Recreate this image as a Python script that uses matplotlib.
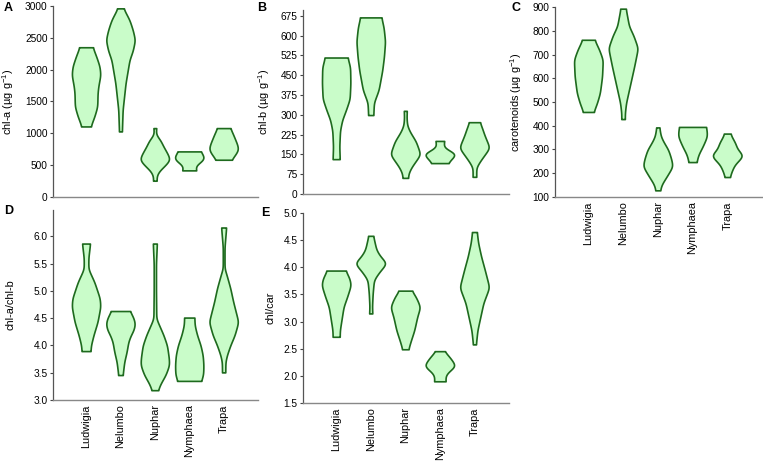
import numpy as np
import matplotlib
matplotlib.use("Agg")
import matplotlib.pyplot as plt

plt.rcParams['font.family'] = ['Liberation Sans', 'DejaVu Sans']
plt.rcParams['mathtext.fontset'] = 'custom'
plt.rcParams['mathtext.rm'] = 'Liberation Sans'
plt.rcParams['mathtext.it'] = 'Liberation Sans:italic'

species = ["Ludwigia", "Nelumbo", "Nuphar", "Nymphaea", "Trapa"]

# violin outlines: y levels (bottom -> top) and relative width
chla_y = [[1108, 1160, 1265, 1420, 1630, 1735, 1918, 2050, 2200, 2352],
          [1030, 1369, 1787, 2153, 2300, 2467, 2620, 2780, 2963],
          [256, 324, 402, 481, 585, 690, 794, 899, 960, 1003, 1050, 1082],
          [418, 455, 496, 533, 596, 660, 716],
          [585, 638, 742, 820, 899, 1003, 1082]]
chla_w = [[0.32, 0.4, 0.58, 0.78, 0.8, 0.85, 1.0, 0.94, 0.72, 0.46],
          [0.1, 0.15, 0.35, 0.62, 0.85, 1.0, 0.85, 0.62, 0.2],
          [0.12, 0.1, 0.25, 0.6, 1.0, 0.8, 0.55, 0.35, 0.12, 0.05, 0.08, 0.1],
          [0.47, 0.4, 0.36, 0.65, 1.0, 0.9, 0.7],
          [0.5, 0.7, 1.0, 0.92, 0.78, 0.6, 0.43]]

chlb_y = [[132, 180, 240, 280, 320, 360, 420, 480, 517],
          [299, 346, 394, 468, 520, 578, 630, 669],
          [61, 77, 101, 150, 199, 236, 260, 290, 315],
          [117, 135, 153, 165, 178, 188, 201],
          [65, 101, 127, 175, 224, 250, 272]]
chlb_w = [[0.25, 0.22, 0.27, 0.42, 0.7, 0.95, 1.0, 0.98, 0.8],
          [0.18, 0.22, 0.55, 0.8, 0.92, 1.0, 0.9, 0.74],
          [0.18, 0.2, 0.4, 1.0, 0.7, 0.3, 0.12, 0.08, 0.1],
          [0.45, 0.7, 1.0, 0.5, 0.18, 0.22, 0.26],
          [0.12, 0.12, 0.4, 1.0, 0.65, 0.5, 0.35]]

car_y = [[458, 496, 538, 608, 678, 720, 762],
         [428, 453, 496, 566, 650, 727, 780, 819, 893],
         [128, 152, 187, 229, 260, 299, 330, 355, 393],
         [247, 278, 313, 355, 380, 395],
         [184, 210, 236, 274, 303, 327, 350, 367]]
car_w = [[0.36, 0.6, 0.8, 0.95, 1.0, 0.75, 0.42],
         [0.12, 0.12, 0.2, 0.45, 0.75, 1.0, 0.7, 0.4, 0.18],
         [0.15, 0.25, 0.6, 1.0, 0.9, 0.7, 0.4, 0.2, 0.1],
         [0.27, 0.4, 0.7, 1.0, 0.98, 0.92],
         [0.15, 0.28, 0.45, 1.0, 0.6, 0.5, 0.3, 0.18]]

ab_y = [[3.896, 4.0, 4.19, 4.43, 4.71, 4.86, 5.16, 5.4, 5.6, 5.866],
        [3.457, 3.70, 3.88, 4.07, 4.19, 4.28, 4.40, 4.52, 4.63],
        [3.18, 3.30, 3.46, 3.64, 3.76, 4.0, 4.19, 4.31, 4.43, 4.49, 5.0, 5.5, 5.866],
        [3.35, 3.46, 3.64, 3.82, 4.0, 4.19, 4.37, 4.51],
        [3.506, 3.70, 3.82, 4.0, 4.19, 4.43, 4.80, 5.05, 5.29, 5.41, 5.8, 6.16]]
ab_w = [[0.31, 0.34, 0.52, 0.8, 1.0, 0.96, 0.58, 0.16, 0.16, 0.28],
        [0.15, 0.26, 0.42, 0.54, 0.71, 0.9, 1.0, 0.87, 0.63],
        [0.21, 0.4, 0.75, 1.0, 0.98, 0.85, 0.6, 0.4, 0.2, 0.1, 0.08, 0.08, 0.14],
        [0.83, 0.98, 1.0, 0.95, 0.8, 0.55, 0.38, 0.36],
        [0.11, 0.12, 0.22, 0.45, 0.75, 1.0, 0.65, 0.45, 0.2, 0.06, 0.06, 0.17]]

chlcar_y = [[2.72, 2.84, 3.03, 3.27, 3.46, 3.675, 3.80, 3.94],
            [3.15, 3.27, 3.52, 3.77, 3.92, 4.076, 4.2, 4.32, 4.58],
            [2.49, 2.63, 2.84, 3.09, 3.27, 3.46, 3.57],
            [1.90, 2.0, 2.07, 2.18, 2.35, 2.455],
            [2.58, 2.84, 3.09, 3.34, 3.63, 3.95, 4.2, 4.45, 4.65]]
chlcar_w = [[0.24, 0.25, 0.36, 0.5, 0.75, 1.0, 0.9, 0.63],
            [0.1, 0.08, 0.12, 0.2, 0.55, 1.0, 0.6, 0.35, 0.15],
            [0.2, 0.35, 0.6, 0.8, 1.0, 0.7, 0.42],
            [0.36, 0.33, 0.5, 1.0, 0.6, 0.26],
            [0.1, 0.2, 0.4, 0.6, 1.0, 0.7, 0.45, 0.25, 0.16]]

FILL = "#c9fcc9"
EDGE = "#1e6a1e"
W, H = 763, 461


def violin(ax, pos, ys, ws, sigma):
    """Draw one truncated violin from an outline profile"""
    ys = np.asarray(ys, float)
    ws = np.asarray(ws, float)
    yy = np.linspace(ys[0], ys[-1], 300)
    ww = np.interp(yy, ys, ws)
    step = yy[1] - yy[0]
    n = max(int(3 * sigma / step), 1)
    k = np.exp(-0.5 * (np.arange(-n, n + 1) * step / sigma) ** 2)
    k /= k.sum()
    ww = np.convolve(np.pad(ww, n, mode="edge"), k, mode="valid")
    half = 0.41 * ww / ww.max()
    ax.fill_betweenx(yy, pos - half, pos + half, facecolor=FILL,
                     edgecolor=EDGE, linewidth=1.2, zorder=2)


def panel(rect, letter, ylabel, all_y, all_w, ylim, yticks, ytl, xlabels,
          letter_xy, label_x):
    ax = fig.add_axes(rect)
    sigma = 0.014 * (ylim[1] - ylim[0])
    for i, (ys, ws) in enumerate(zip(all_y, all_w)):
        violin(ax, i, ys, ws, sigma)
    ax.set_xlim(-0.96, 5.0)
    ax.set_ylim(*ylim)
    ax.set_yticks(yticks)
    ax.set_yticklabels(ytl, fontsize=7.3)
    ax.tick_params(axis="y", length=2.5, width=0.8, pad=1.5, color="#444444")
    if xlabels:
        ax.set_xticks(range(len(species)))
        ax.set_xticklabels(species, rotation=90, fontsize=7.8)
        ax.tick_params(axis="x", length=0, pad=3)
    else:
        ax.set_xticks([])
    for s in ["top", "right"]:
        ax.spines[s].set_visible(False)
    ax.spines["left"].set_color("#555555")
    ax.spines["bottom"].set_color("#888888")
    ax.spines["left"].set_linewidth(0.9)
    ax.spines["bottom"].set_linewidth(1.0)
    ax.set_ylabel(ylabel, fontsize=7.9)
    ax.yaxis.set_label_coords(label_x / W, rect[1] + rect[3] / 2,
                              transform=fig.transFigure)
    fig.text(letter_xy[0] / W, 1 - letter_xy[1] / H, letter, fontsize=9,
             fontweight="bold", ha="left", va="center")
    return ax


fig = plt.figure(figsize=(7.63, 4.61), dpi=100)

ug = "(\u00b5g g$^{-1}$)"
panel([0.0695, 0.5727, 0.2687, 0.4143], "A", "chl-a " + ug,
      chla_y, chla_w, (0, 3000), range(0, 3001, 500),
      [str(v) for v in range(0, 3001, 500)], False, (4, 8), 16)
panel([0.3971, 0.5792, 0.27, 0.3991], "B", "chl-b " + ug,
      chlb_y, chlb_w, (0, 697), range(0, 676, 75),
      [str(v) for v in range(0, 676, 75)], False, (257, 8), 272)
panel([0.7274, 0.5727, 0.2713, 0.4121], "C", "carotenoids " + ug,
      car_y, car_w, (100, 900), range(100, 901, 100),
      [str(v) for v in range(100, 901, 100)], True, (511, 8), 524)
panel([0.0695, 0.1323, 0.2687, 0.4121], "D", "chl-a/chl-b",
      ab_y, ab_w, (3.0, 6.48), np.arange(3.0, 6.01, 0.5),
      ["%.1f" % v for v in np.arange(3.0, 6.01, 0.5)], True, (4, 211), 16)
panel([0.3971, 0.1258, 0.27, 0.4121], "E", "chl/car",
      chlcar_y, chlcar_w, (1.5, 5.0), np.arange(1.5, 5.01, 0.5),
      ["%.1f" % v for v in np.arange(1.5, 5.01, 0.5)], True, (261, 213), 276)

fig.savefig("out.png", dpi=100)
